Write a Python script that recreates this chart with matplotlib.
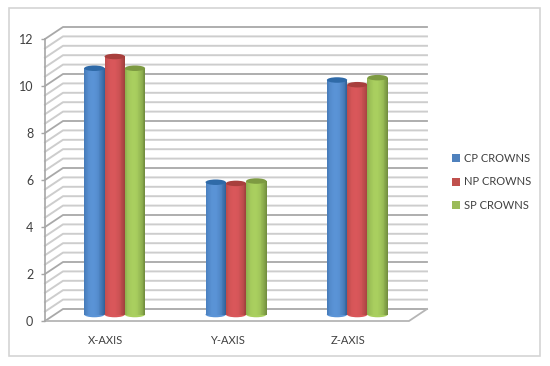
import numpy as np
import matplotlib
matplotlib.use('Agg')
import matplotlib.pyplot as plt
from matplotlib.patches import Ellipse, Patch, Rectangle
from matplotlib.colors import to_rgb

categories = ['X-AXIS', 'Y-AXIS', 'Z-AXIS']
series_names = ['CP CROWNS', 'NP CROWNS', 'SP CROWNS']
cp_values = [10.5, 5.65, 10.0]
np_values = [11.0, 5.6, 9.8]
sp_values = [10.5, 5.7, 10.1]
y_ticks = [0, 2, 4, 6, 8, 10, 12]
minor_grid = [0.4, 0.8, 1.2, 1.6]

# edge, middle, top colours for each series
colors = [('#2f5f96', '#5a93d6', '#2f6aa8'),
          ('#9c3f3c', '#d9575a', '#a83f3d'),
          ('#6f8a3c', '#a9cf5f', '#7d9a42')]
legend_colors = ['#4f81bd', '#c0504d', '#9bbb59']

plt.rcParams['font.family'] = ['Lato', 'DejaVu Sans']

W, H = 550, 366
fig = plt.figure(figsize=(W / 100, H / 100), dpi=100)
fig.patches.append(Rectangle((9 / W, 1 - 356 / H), 531 / W, 348 / H, transform=fig.transFigure,
                             fill=False, ec='#d4d4d4', lw=1.2))

ax = fig.add_axes([45 / W, 1 - 321 / H, 364 / W, 282 / H])
ax.set_xlim(-0.5, 2.5)
ax.set_ylim(0, 12)
ax.patch.set_alpha(0)
for s in ['top', 'right', 'bottom']:
    ax.spines[s].set_visible(False)
ax.spines['left'].set_color('#a6a6a6')
ax.spines['left'].set_linewidth(1.2)

# depth of the fake 3d box, in data units
dx = 18 / (364 / 3)
dy = 12 / (282 / 12)
x0, x1 = -0.5, 2.5

gridlines = sorted([(v, True) for v in y_ticks] +
                   [(t + m, False) for t in y_ticks[:-1] for m in minor_grid])
for v, major in gridlines:
    c = '#a8a8a8' if major else '#cdcdcd'
    lw = 1.3 if major else 1.4
    ax.plot([x0, x0 + dx, x1 + dx], [v, v + dy, v + dy], color=c, lw=lw, clip_on=False, zorder=1)

# floor
ax.plot([x0, x1, x1 + dx], [0, 0, dy], color='#b5b5b5', lw=1.3, clip_on=False, zorder=1)

bar_w = 20.3 / (364 / 3)
ell_h = 5.5 / (282 / 12)
n_strips = 24
base = dy / 2 + 0.02
all_values = [cp_values, np_values, sp_values]

for i, vals in enumerate(all_values):
    edge, mid, top = colors[i]
    e_rgb, m_rgb = np.array(to_rgb(edge)), np.array(to_rgb(mid))
    for j, v in enumerate(vals):
        cx = j + dx / 2 + (i - 1) * bar_w
        z = 3 + i
        # bars stand in the middle of the depth
        top_y = v + dy / 2
        # rounded shading across the cylinder
        for k in range(n_strips):
            t = (k + 0.5) / n_strips
            w = min(1, abs(t - 0.42) / 0.58) ** 2.2
            col = m_rgb * (1 - w) + e_rgb * w
            left = cx - bar_w / 2 + k * bar_w / n_strips
            ax.bar(left, top_y - base, bottom=base, width=bar_w / n_strips * 1.15,
                   align='edge', color=col, lw=0, zorder=z, clip_on=False)
        ax.add_patch(Ellipse((cx, base), bar_w, ell_h, fc=mid, ec='none', zorder=z - 0.5, clip_on=False))
        ax.add_patch(Ellipse((cx, top_y), bar_w, ell_h, fc=top, ec='none', zorder=z + 0.5, clip_on=False))

ax.set_xticks(range(len(categories)))
ax.set_xticklabels(categories, fontsize=8, color='#404040')
ax.tick_params(axis='x', length=0, pad=10)
ax.set_yticks(y_ticks)
ax.tick_params(axis='y', length=3, width=1, color='#a6a6a6', labelsize=9, labelcolor='#404040', pad=5.5)

handles = [Patch(fc=c, ec='none') for c in legend_colors]
fig.legend(handles, series_names, loc='center left', bbox_to_anchor=(451.5 / W, 1 - 182 / H),
           frameon=False, fontsize=8, labelcolor='#404040', handlelength=0.75, handleheight=0.75,
           handletextpad=0.35, labelspacing=1.15, borderpad=0, borderaxespad=0)

fig.savefig('out.png', dpi=100)
